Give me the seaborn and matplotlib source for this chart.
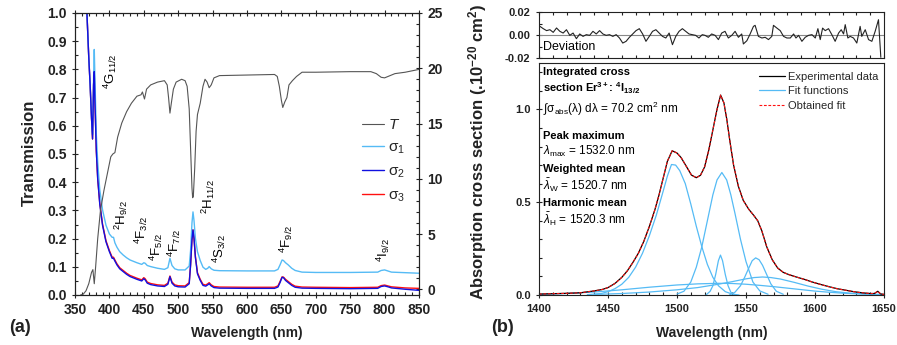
import numpy as np
import matplotlib
matplotlib.use("Agg")
import matplotlib.pyplot as plt
import seaborn as sns
from matplotlib.ticker import MultipleLocator, FormatStrFormatter

# ---- (a) transmission / cross sections ----
t_wl = [358, 362, 366, 370, 374, 376, 378, 380, 383, 387, 392, 397, 402, 405, 408, 412, 418, 425,
        432, 440, 446, 448, 451, 454, 460, 470, 480, 484, 486, 488, 490, 493, 497, 505, 510, 513,
        516, 518, 520, 521, 522, 524, 526, 528, 532, 536, 539, 542, 545, 548, 552, 560, 600, 640,
        644, 647, 650, 652, 655, 658, 661, 666, 672, 680, 700, 750, 780, 788, 795, 800, 805, 815,
        830, 850]
t_vals = [0.0, 0.003, 0.015, 0.04, 0.08, 0.09, 0.04, 0.1, 0.2, 0.3, 0.37, 0.43, 0.49, 0.5, 0.505,
          0.56, 0.61, 0.65, 0.68, 0.705, 0.71, 0.72, 0.695, 0.73, 0.745, 0.755, 0.76, 0.745, 0.70,
          0.645, 0.68, 0.73, 0.755, 0.765, 0.76, 0.74, 0.66, 0.52, 0.38, 0.345, 0.35, 0.45, 0.58,
          0.64, 0.68, 0.74, 0.765, 0.755, 0.735, 0.745, 0.77, 0.778, 0.78, 0.782, 0.775, 0.74, 0.69,
          0.665, 0.685, 0.70, 0.745, 0.76, 0.775, 0.79, 0.79, 0.792, 0.792, 0.785, 0.772, 0.77,
          0.775, 0.785, 0.79, 0.80]

s_wl = [366, 370, 372, 374, 375.5, 377, 378, 379, 381, 383, 386, 390, 395, 400, 404, 406, 408, 411,
        415, 420, 425, 430, 440, 447, 450, 452, 455, 460, 470, 480, 485, 488, 491, 495, 500, 510,
        516, 518, 520, 521.5, 523, 525, 528, 532, 536, 540, 543, 545, 548, 552, 560, 600, 640, 645,
        648, 651, 653, 656, 660, 665, 670, 680, 700, 750, 790, 795, 800, 805, 810, 830, 850]
sigma1 = [27, 21, 18.5, 15.5, 14.0, 19, 21.7, 19, 14, 11.5, 9, 7.2, 5.8, 5.0, 4.7, 4.7, 4.2, 3.8,
          3.4, 3.1, 2.85, 2.65, 2.4, 2.25, 2.4, 2.35, 2.15, 2.05, 1.9, 1.8, 1.95, 2.8, 2.15, 1.85,
          1.75, 1.75, 2.1, 3.5, 6.0, 7.0, 6.2, 4.6, 3.4, 2.6, 2.0, 1.8, 1.9, 2.05, 1.85, 1.72, 1.68,
          1.66, 1.66, 1.8, 2.2, 2.65, 2.6, 2.4, 2.2, 1.9, 1.7, 1.55, 1.52, 1.52, 1.55, 1.7, 1.75,
          1.65, 1.55, 1.5, 1.45]
sigma2 = [27, 21, 18.5, 15.5, 13.6, 18.5, 19.7, 17, 12.5, 10, 7.7, 5.8, 4.3, 3.4, 2.8, 2.8, 2.55,
          2.2, 1.85, 1.6, 1.35, 1.15, 0.9, 0.75, 0.95, 0.85, 0.55, 0.42, 0.3, 0.25, 0.45, 1.14,
          0.55, 0.3, 0.22, 0.2, 0.5, 2.2, 4.5, 5.37, 4.6, 2.9, 1.4, 0.8, 0.35, 0.28, 0.4, 0.5, 0.3,
          0.15, 0.1, 0.08, 0.08, 0.2, 0.6, 1.08, 1.05, 0.8, 0.6, 0.35, 0.18, 0.1, 0.08, 0.05, 0.08,
          0.25, 0.3, 0.22, 0.12, 0.0, -0.1]
sigma3 = [27, 21, 18.5, 15.5, 13.6, 18.5, 19.7, 17, 12.5, 10, 7.8, 5.9, 4.4, 3.5, 2.9, 2.9, 2.65,
          2.3, 1.95, 1.7, 1.45, 1.25, 1.0, 0.85, 1.05, 0.95, 0.65, 0.52, 0.4, 0.35, 0.55, 1.2,
          0.65, 0.4, 0.32, 0.3, 0.6, 2.2, 4.5, 5.37, 4.6, 2.95, 1.5, 0.9, 0.45, 0.38, 0.5, 0.6,
          0.4, 0.25, 0.2, 0.18, 0.18, 0.3, 0.7, 1.12, 1.1, 0.9, 0.7, 0.45, 0.28, 0.2, 0.18, 0.15,
          0.18, 0.33, 0.38, 0.3, 0.22, 0.12, 0.08]

level_labels = [r'$^4$G$_{11/2}$', r'$^2$H$_{9/2}$', r'$^4$F$_{3/2}$', r'$^4$F$_{5/2}$',
                r'$^4$F$_{7/2}$', r'$^2$H$_{11/2}$', r'$^4$S$_{3/2}$', r'$^4$F$_{9/2}$',
                r'$^4$I$_{9/2}$']
level_pos = [(401, 0.732), (418, 0.23), (447, 0.18), (468, 0.122), (495, 0.136),
             (543.5, 0.289), (560.5, 0.112), (657.5, 0.148), (797.5, 0.118)]

# ---- (b) Er3+ 4I13/2 absorption band ----
exp_wl = [1400, 1410, 1420, 1430, 1440, 1446, 1450, 1455, 1460, 1464, 1468, 1472, 1476, 1480, 1484,
          1487, 1490, 1493, 1496.5, 1500, 1503, 1507, 1510.5, 1514, 1517, 1520, 1523, 1526, 1529,
          1531.6, 1534, 1536, 1538.5, 1541, 1544.5, 1548, 1552, 1555.5, 1558.5, 1561.5, 1565, 1569,
          1573, 1577, 1581, 1586, 1592, 1598, 1604, 1610, 1616, 1622, 1628, 1634, 1640, 1643,
          1645.5, 1647.5, 1650]
exp_vals = [0.005, 0.007, 0.009, 0.012, 0.022, 0.03, 0.04, 0.062, 0.095, 0.13, 0.175, 0.225, 0.29,
            0.37, 0.46, 0.54, 0.63, 0.72, 0.777, 0.765, 0.74, 0.69, 0.646, 0.632, 0.645, 0.69,
            0.78, 0.89, 1.0, 1.077, 1.035, 0.95, 0.82, 0.70, 0.585, 0.51, 0.462, 0.43, 0.40, 0.345,
            0.26, 0.19, 0.145, 0.122, 0.11, 0.098, 0.085, 0.07, 0.057, 0.045, 0.034, 0.026, 0.018,
            0.012, 0.008, 0.008, 0.02, 0.006, 0.003]
fit_vals = exp_vals

fitA_wl = [1435, 1445, 1450, 1455, 1460, 1465, 1470, 1475, 1480, 1485, 1490, 1493, 1496, 1499, 1502,
           1506, 1510, 1514, 1518, 1522, 1526, 1530, 1535, 1540, 1545]
fitA = [0.002, 0.008, 0.018, 0.034, 0.058, 0.095, 0.15, 0.225, 0.32, 0.43, 0.56, 0.64, 0.703, 0.70,
        0.67, 0.60, 0.49, 0.37, 0.26, 0.165, 0.095, 0.05, 0.018, 0.005, 0.0]
fitB_wl = [1500, 1505, 1510, 1514, 1518, 1522, 1526, 1529, 1532.5, 1536, 1539, 1542, 1546, 1550,
           1555, 1560, 1566]
fitB = [0.005, 0.02, 0.07, 0.15, 0.26, 0.40, 0.54, 0.62, 0.66, 0.62, 0.54, 0.44, 0.30, 0.18, 0.07,
        0.022, 0.004]
fitC_wl = [1521, 1524, 1526, 1528, 1530, 1531.5, 1533, 1535, 1537, 1539, 1542]
fitC = [0.0, 0.02, 0.05, 0.11, 0.185, 0.215, 0.185, 0.11, 0.05, 0.015, 0.0]
fitD_wl = [1538, 1542, 1546, 1549, 1552, 1554.5, 1557, 1559.5, 1562, 1565, 1568, 1572, 1577]
fitD = [0.0, 0.015, 0.05, 0.095, 0.145, 0.185, 0.2, 0.19, 0.16, 0.11, 0.06, 0.02, 0.004]
fitE_wl = [1440, 1460, 1480, 1500, 1515, 1530, 1540, 1550, 1556, 1562, 1568, 1575, 1585, 1595, 1605,
           1615, 1625, 1640, 1650]
fitE = [0.003, 0.008, 0.016, 0.028, 0.04, 0.058, 0.072, 0.087, 0.094, 0.097, 0.094, 0.086, 0.068,
        0.048, 0.031, 0.018, 0.01, 0.004, 0.002]
fitF_wl = [1400, 1420, 1440, 1460, 1480, 1500, 1515, 1530, 1540, 1550, 1560, 1570, 1580, 1590, 1600,
           1610, 1620, 1635, 1650]
fitF = [0.003, 0.008, 0.016, 0.028, 0.042, 0.054, 0.06, 0.063, 0.062, 0.058, 0.052, 0.045, 0.037,
        0.029, 0.021, 0.015, 0.01, 0.005, 0.002]

dev_wl = [1400.7, 1403.1, 1405.5, 1407.9, 1410.3, 1412.7, 1415.1, 1417.5, 1419.9, 1422.3, 1424.7,
          1427.1, 1429.5, 1431.9, 1434.3, 1436.7, 1439.1, 1441.5, 1443.9, 1446.3, 1448.7, 1451.1,
          1453.5, 1455.9, 1458.3, 1460.7, 1463.1, 1465.5, 1467.9, 1470.3, 1472.7, 1475.1, 1477.5,
          1479.9, 1482.3, 1484.7, 1487.1, 1489.5, 1491.9, 1494.3, 1496.7, 1499.1, 1501.5, 1503.9,
          1506.3, 1508.7, 1511.1, 1513.5, 1515.9, 1518.3, 1520.3, 1522.7, 1525.1, 1527.6, 1530.0,
          1532.4, 1534.8, 1537.2, 1539.7, 1542.1, 1544.5, 1546.9, 1548.1, 1550.6, 1553.0, 1555.4,
          1556.6, 1559.0, 1561.5, 1563.9, 1566.3, 1568.7, 1569.9, 1572.4, 1574.8, 1577.2, 1579.6,
          1582.1, 1584.5, 1586.2, 1588.1, 1590.5, 1592.9, 1595.3, 1597.8, 1600.2, 1602.1, 1603.8,
          1605.5, 1607.4, 1609.8, 1612.2, 1614.6, 1617.1, 1619.0, 1620.7, 1621.9, 1623.8, 1625.5,
          1627.9, 1630.3, 1632.7, 1633.9, 1636.4, 1638.8, 1641.2, 1643.6, 1646.0, 1647.7]
dev_vals = [0.0075, 0.0055, 0.0038, 0.0046, 0.0023, 0.0061, 0.0032, 0.0017, 0.0046, -0.0003,
            0.0017, -0.0032, 0.0009, -0.0012, 0.0003, -0.0003, 0.0032, 0.0009, 0.0038, 0.0009,
            -0.0003, 0.0003, -0.0012, 0.0003, -0.0026, -0.0070, -0.0055, -0.0020, 0.0009, 0.0038,
            0.0055, 0.0009, -0.0055, -0.0012, 0.0032, 0.0046, 0.0017, -0.0012, -0.0026, 0.0017,
            -0.0084, -0.0012, 0.0032, 0.0055, 0.0032, 0.0009, 0.0003, -0.0003, -0.0026, 0.0003,
            -0.0003, -0.002, 0.0009, -0.0003, -0.004, 0.0017, 0.0032, -0.0026, -0.0003, 0.0032,
            -0.002, 0.0009, -0.0078, -0.005, 0.0009, 0.0075, 0.0084, -0.0012, -0.0026, -0.002,
            -0.004, -0.0012, 0.0084, 0.006, 0.0038, -0.0012, -0.0026, -0.0026, 0.0009, -0.0026,
            -0.0003, -0.0055, -0.002, -0.0003, 0.0003, -0.0026, 0.0055, -0.004, 0.006, 0.0038,
            0.0055, 0.0003, -0.0055, 0.0017, 0.0046, 0.0009, 0.0090, -0.0026, -0.0012, -0.0026,
            -0.007, 0.0075, -0.0012, 0.0046, -0.004, -0.0055, 0.0032, 0.0133, -0.0194]

# ---- style ----
sns.set_theme(style="ticks")
plt.rcParams['font.family'] = ['Liberation Sans', 'DejaVu Sans']
plt.rcParams['mathtext.fontset'] = 'custom'
plt.rcParams['mathtext.rm'] = 'Liberation Sans'
plt.rcParams['mathtext.it'] = 'Liberation Sans:italic'
plt.rcParams['mathtext.bf'] = 'Liberation Sans:bold'
plt.rcParams['axes.unicode_minus'] = False
plt.rcParams['axes.linewidth'] = 0.8
plt.rcParams['axes.edgecolor'] = '#222222'

INK = '#222222'
LBLUE = '#55BBF5'


def style_ticks(a, size, **kw):
    a.tick_params(which='major', direction='inout', length=5, width=0.8, labelsize=size,
                  colors=INK, **kw)
    a.tick_params(which='minor', direction='in', length=2.5, width=0.8, colors=INK, **kw)
    for lab in a.get_xticklabels() + a.get_yticklabels():
        lab.set_fontweight('bold')


def line(a, x, y, **kw):
    sns.lineplot(x=x, y=y, ax=a, estimator=None, errorbar=None, sort=False, legend=False, **kw)
    return a.lines[-1]


fig = plt.figure(figsize=(8.97, 3.45), dpi=100)

# ---------- panel (a) ----------
ax = fig.add_axes([75 / 897, 1 - 295 / 345, 344 / 897, 282 / 345])
ax2 = ax.twinx()
ax.set_zorder(ax2.get_zorder() + 1)
ax.patch.set_visible(False)

hT = line(ax, t_wl, t_vals, color='#555555', lw=0.8)
h3 = line(ax2, s_wl, sigma3, color='#FF1010', lw=1.0)
h1 = line(ax2, s_wl, sigma1, color=LBLUE, lw=1.0)
h2 = line(ax2, s_wl, sigma2, color='#1010E0', lw=1.0)

ax.set_xlim(350, 850)
ax.set_ylim(0, 1.0)
ax2.set_ylim(-0.52, 25)
ax.xaxis.set_major_locator(MultipleLocator(50))
ax.xaxis.set_minor_locator(MultipleLocator(10))
ax.yaxis.set_major_locator(MultipleLocator(0.1))
ax.yaxis.set_minor_locator(MultipleLocator(0.05))
ax.yaxis.set_major_formatter(FormatStrFormatter('%.1f'))
ax2.yaxis.set_major_locator(MultipleLocator(5))
ax2.yaxis.set_minor_locator(MultipleLocator(1))
ax.set_xlabel('')
ax.set_ylabel('')
ax2.set_ylabel('')
style_ticks(ax, 10, top=True, right=False)
style_ticks(ax2, 10, left=False, right=True)
ax.tick_params(axis='x', which='both', top=True)
ax.tick_params(axis='x', which='major', pad=3)

for lab, (xx, yy) in zip(level_labels, level_pos):
    ax.text(xx, yy, lab, rotation=90, ha='center', va='bottom', fontsize=9.5, color='black')

leg = ax.legend([hT, h1, h2, h3], ['$T$', 'σ$_1$', 'σ$_2$', 'σ$_3$'], loc='upper left',
                bbox_to_anchor=(0.835, 0.627), frameon=False, fontsize=11, handlelength=1.45,
                handletextpad=0.25, labelspacing=0.55, borderpad=0, borderaxespad=0)

fig.text(29 / 897, 1 - 153 / 345, 'Transmission', rotation=90, ha='center', va='center',
         fontsize=12, fontweight='bold', color=INK)
fig.text(247 / 897, 1 - 333 / 345, 'Wavelength (nm)', ha='center', va='center',
         fontsize=10, fontweight='bold', color=INK)
fig.text(20 / 897, 1 - 327 / 345, '(a)', ha='center', va='center', fontsize=13,
         fontweight='bold', color=INK)

# ---------- panel (b) ----------
axd = fig.add_axes([539 / 897, 1 - 58 / 345, 345 / 897, 46 / 345])
axb = fig.add_axes([539 / 897, 1 - 295 / 345, 345 / 897, 232 / 345])

axd.axhline(0, color='#888888', lw=0.8)
line(axd, dev_wl, dev_vals, color='#222222', lw=0.8)
axd.set_xlim(1400, 1650)
axd.set_ylim(-0.02, 0.02)
axd.xaxis.set_major_locator(MultipleLocator(50))
axd.xaxis.set_minor_locator(MultipleLocator(10))
axd.yaxis.set_major_locator(MultipleLocator(0.02))
axd.yaxis.set_minor_locator(MultipleLocator(0.01))
axd.yaxis.set_major_formatter(FormatStrFormatter('%.2f'))
style_ticks(axd, 8)
axd.tick_params(axis='x', which='both', direction='in', top=True, bottom=True, labelbottom=False,
                length=2.5)
axd.text(0.0125, 0.245, 'Deviation', transform=axd.transAxes, ha='left', va='center',
         fontsize=9, color='black')

for fx, fy in [(fitF_wl, fitF), (fitE_wl, fitE), (fitA_wl, fitA), (fitB_wl, fitB),
               (fitC_wl, fitC), (fitD_wl, fitD)]:
    hfit = line(axb, fx, fy, color=LBLUE, lw=0.9)
hexp = line(axb, exp_wl, exp_vals, color='black', lw=0.9)
hob = line(axb, exp_wl, fit_vals, color='#FF1010', lw=0.8, linestyle=(0, (2.5, 1.5)))

axb.set_xlim(1400, 1650)
axb.set_ylim(0, 1.25)
axb.xaxis.set_major_locator(MultipleLocator(50))
axb.xaxis.set_minor_locator(MultipleLocator(10))
axb.yaxis.set_major_locator(MultipleLocator(0.5))
axb.yaxis.set_minor_locator(MultipleLocator(0.1))
axb.yaxis.set_major_formatter(FormatStrFormatter('%.1f'))
style_ticks(axb, 8)
axb.tick_params(axis='x', which='major', pad=4)

axb.legend([hexp, hfit, hob], ['Experimental data', 'Fit functions', 'Obtained fit'],
           loc='upper right', bbox_to_anchor=(0.985, 0.962), frameon=False, fontsize=8,
           handlelength=2.3, handletextpad=0.35, labelspacing=0.4, borderpad=0,
           borderaxespad=0)

txt = [(0.960, 'Integrated cross', 'bold', 8),
       (0.891, r'section Er$^{\mathbf{3+}}$: $^{\mathbf{4}}$I$_{\mathbf{13/2}}$', 'bold', 8),
       (0.800, r'∫σ$_{\rm abs}$(λ) dλ = 70.2 cm$^2$ nm', 'normal', 8.5),
       (0.687, 'Peak maximum', 'bold', 8),
       (0.618, r'$\lambda_{\rm max}$ = 1532.0 nm', 'normal', 8.5),
       (0.542, 'Weighted mean', 'bold', 8),
       (0.474, r'$\bar{\lambda}_{\rm W}$ = 1520.7 nm', 'normal', 8.5),
       (0.395, 'Harmonic mean', 'bold', 8),
       (0.326, r'$\bar{\lambda}_{\rm H}$ = 1520.3 nm', 'normal', 8.5)]
for yy, s, w, fs in txt:
    axb.text(0.0125, yy, s, transform=axb.transAxes, ha='left', va='center', fontsize=fs,
             fontweight=w, color='black')

fig.text(478 / 897, 1 - 152 / 345, r'Absorption cross section (.10$^{\mathbf{-20}}$ cm$^{\mathbf{2}}$)',
         rotation=90, ha='center', va='center', fontsize=12, fontweight='bold', color=INK)
fig.text(711.5 / 897, 1 - 333 / 345, 'Wavelength (nm)', ha='center', va='center',
         fontsize=10, fontweight='bold', color=INK)
fig.text(502 / 897, 1 - 327 / 345, '(b)', ha='center', va='center', fontsize=13,
         fontweight='bold', color=INK)

fig.savefig('out.png', dpi=100)
